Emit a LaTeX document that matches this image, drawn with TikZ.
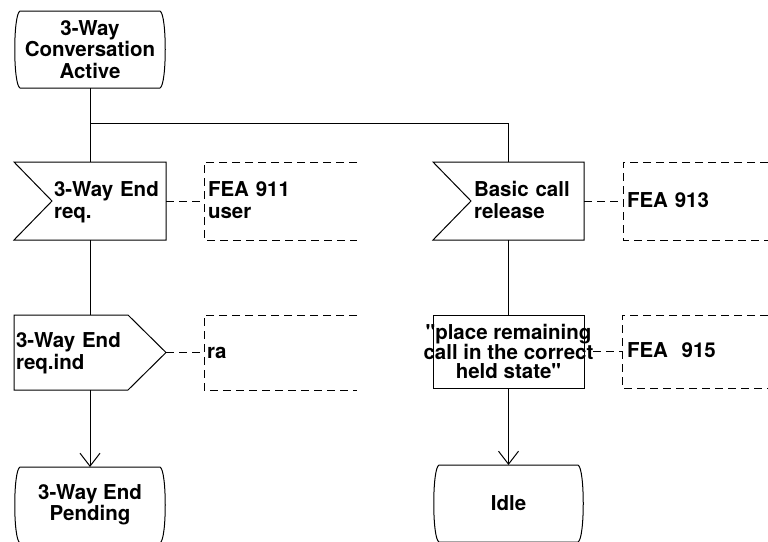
\documentclass[tikz,border=0pt]{standalone}
\usepackage{fontspec}
\setsansfont{TeX Gyre Heros}
\usetikzlibrary{calc,arrows.meta}

% outline of an SDL state symbol around node #1
\newcommand\sdlstate[1]{%
  \draw[flow] ($(#1.north west)+(6,0)$) -- ($(#1.north east)+(-6,0)$)
    .. controls ($(#1.north east)+(1,3)$) and ($(#1.south east)+(1,-3)$) .. ($(#1.south east)+(-6,0)$)
    -- ($(#1.south west)+(6,0)$)
    .. controls ($(#1.south west)+(-1,-3)$) and ($(#1.north west)+(-1,3)$) .. cycle;}
% outline of an SDL input symbol (notch on the left)
\newcommand\sdlinput[1]{%
  \draw[flow] (#1.north west) -- (#1.north east) -- (#1.south east) -- (#1.south west)
    -- ($(#1.west)+(38,0)$) -- cycle;}
% outline of an SDL output symbol (point on the right)
\newcommand\sdloutput[1]{%
  \draw[flow] (#1.north west) -- ($(#1.north east)+(-38,0)$) -- (#1.east)
    -- ($(#1.south east)+(-38,0)$) -- (#1.south west) -- cycle;}
% open comment bracket
\newcommand\sdlcomment[1]{%
  \draw[flow,dashline] (#1.north east) -- (#1.north west) -- (#1.south west) -- (#1.south east);}
% left-aligned block of lines, indented from the symbol's left edge
\newcommand\indented[2]{\hspace*{#1}\raisebox{-2pt}[\height][\depth]{\begin{tabular}[c]{@{}l@{}}#2\end{tabular}}}

\begin{document}
\begin{tikzpicture}[x=1pt,y=-1pt,
  every node/.style={font=\sffamily\bfseries\fontsize{20.5}{21.5}\selectfont,
                     inner sep=0pt, outer sep=0pt},
  flow/.style={line width=1pt, line join=miter},
  dashline/.style={dash pattern=on 8pt off 5pt},
  arrowline/.style={flow, -{Straight Barb[length=13pt,width=20pt,line width=1pt]}},
  statebox/.style={minimum width=152pt, minimum height=#1, align=center},
  symbox/.style 2 args={minimum width=#1, text width=#1, minimum height=#2, align=left},
  taskbox/.style={minimum width=151pt, minimum height=73pt, align=center,
                  font=\sffamily\bfseries\fontsize{20.5}{19}\selectfont},
]
\useasboundingbox (0,0) rectangle (768,541);
\clip (0,0) rectangle (768,541);

% left branch
\node[statebox=77pt] (s1) at (90,49.5) {3-Way\\Conversation\\Active};
\node[symbox={152pt}{78pt}] (in1) at (90,201) {\indented{40pt}{3-Way End\\req.}};
\node[symbox={153pt}{78pt}] (c1) at (280.5,201) {\indented{4pt}{FEA 911\\user}};
\node[symbox={152pt}{75pt}] (out1) at (90,352.5) {\indented{2pt}{3-Way End\\req.ind}};
\node[symbox={153pt}{75pt}] (c2) at (280.5,352.5) {\indented{3pt}{ra}};
\node[statebox=76pt] (s2) at (90,505) {3-Way End\\Pending};

% right branch
\node[symbox={151pt}{78pt}] (in2) at (508.5,201) {\indented{41pt}{Basic call\\release}};
\node[symbox={145pt}{78pt}] (c3) at (695.5,201) {\indented{4pt}{FEA 913}};
\node[taskbox] (t1) at (508.5,351.5)
  {\textquotedbl place remaining\\call in the correct\\held state\textquotedbl};
\node[symbox={146pt}{73pt}] (c4) at (695,351.5) {\indented{5pt}{FEA\ \ 915}};
\node[statebox=77pt, minimum width=151pt] (s3) at (508.5,503.5) {Idle};

% symbol outlines
\sdlstate{s1}
\sdlinput{in1}
\sdloutput{out1}
\sdlstate{s2}
\sdlinput{in2}
\draw[flow] ($(t1.center)+(-75.5,-36.5)$) rectangle ($(t1.center)+(75.5,36.5)$);
\sdlstate{s3}
\sdlcomment{c1}
\sdlcomment{c2}
\sdlcomment{c3}
\sdlcomment{c4}

% flow lines
\coordinate (br) at (90,123.5);
\draw[flow] (s1.south) -- (in1.north);
\draw[flow] (br) -| (in2.north);
\draw[flow] (in1.south) -- (out1.north);
\draw[arrowline] (out1.south) -- (s2.north);
\draw[flow] (in2.south) -- (t1.north);
\draw[arrowline] (t1.south) -- (s3.north);

% comment connectors
\draw[flow,dashline] (in1.east) -- (c1.west);
\draw[flow,dashline] (out1.east) -- (c2.west);
\draw[flow,dashline] (in2.east) -- (c3.west);
\draw[flow,dashline] (t1.east) -- (c4.west);
\end{tikzpicture}
\end{document}
